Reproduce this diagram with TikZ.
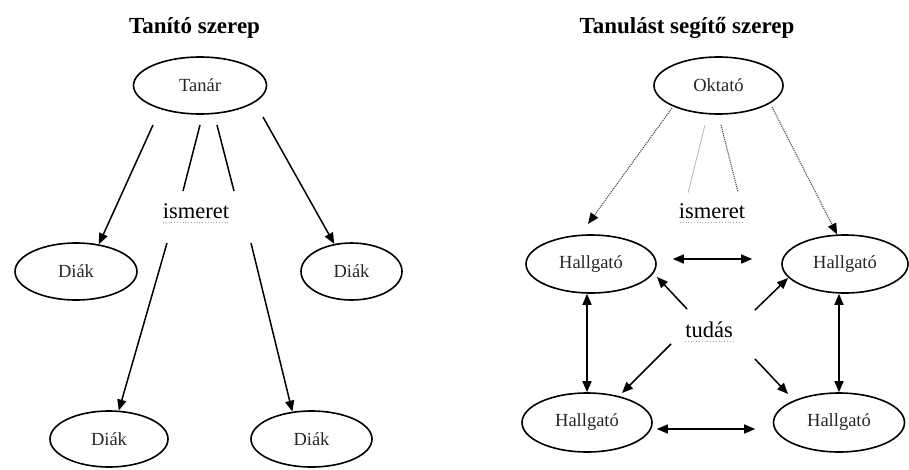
\documentclass[tikz,border=0pt]{standalone}
\usepackage{fontspec}
\setmainfont{Liberation Serif}
\usetikzlibrary{shapes.geometric,arrows.meta}
\begin{document}
\begin{tikzpicture}[x=1pt,y=-1pt,
  ell/.style={draw,ellipse,line width=1.6pt,inner sep=0pt,font=\fontsize{18.5}{22}\selectfont,text=black!85},
  ttl/.style={font=\fontsize{23}{27}\selectfont\bfseries,anchor=base},
  lbl/.style={font=\fontsize{22.5}{26}\selectfont,anchor=base},
  arr/.style={line width=1.5pt,-{Triangle[length=11pt,width=9pt]}},
  dbl/.style={line width=1.5pt,{Triangle[length=11pt,width=9pt]}-{Triangle[length=11pt,width=9pt]}},
  plainline/.style={line width=1.5pt},
  dotarr/.style={line width=1.1pt,densely dotted,black!70,-{Triangle[length=11pt,width=9pt,black]}},
  squig/.style={line width=0.8pt,dotted,gray!70}
]
\useasboundingbox (0,0) rectangle (909,469);

% titles
\node[ttl] (t1) at (194.5,33) {Tanító szerep};
\node[ttl] (t2) at (687,33) {Tanulást segítő szerep};

% left diagram
\node[ell,minimum width=133pt,minimum height=57pt] (tanar) at (200,85.5) {Tanár};
\node[ell,minimum width=122pt,minimum height=57pt] (diak1) at (76,271.5) {Diák};
\node[ell,minimum width=101pt,minimum height=57pt] (diak2) at (351.5,271.5) {Diák};
\node[ell,minimum width=118pt,minimum height=56pt] (diak3) at (109,439) {Diák};
\node[ell,minimum width=121pt,minimum height=56pt] (diak4) at (311.5,439) {Diák};
\node[lbl] (ism1) at (196,218) {ismeret};
\draw[squig] (163,222) -- (229,222);

\coordinate (a1s) at (153,125);
\coordinate (a2s) at (263,117);
\coordinate (l1s) at (200,125);
\coordinate (l1e) at (183,191);
\coordinate (l2s) at (217,125);
\coordinate (l2e) at (234,191);
\coordinate (b1s) at (167,243);
\coordinate (b2s) at (251,243);

\draw[arr] (a1s) -- (diak1.50);
\draw[arr] (a2s) -- (diak2.122);
\draw[plainline] (l1s) -- (l1e);
\draw[plainline] (l2s) -- (l2e);
\draw[arr] (b1s) -- (diak3.71);
\draw[arr] (b2s) -- (diak4.125);

% right diagram
\node[ell,minimum width=129pt,minimum height=57pt] (oktato) at (718.5,85.5) {Oktató};
\node[ell,minimum width=130pt,minimum height=58pt] (h1) at (591,264) {Hallgató};
\node[ell,minimum width=126pt,minimum height=58pt] (h2) at (845,264) {Hallgató};
\node[ell,minimum width=130pt,minimum height=59pt] (h3) at (587,422.5) {Hallgató};
\node[ell,minimum width=131pt,minimum height=59pt] (h4) at (839,422.5) {Hallgató};
\node[lbl] (ism2) at (712,218) {ismeret};
\draw[squig] (680,222) -- (744,222);
\node[lbl] (tudas) at (709,337) {tudás};
\draw[squig] (685,341) -- (733,341);

\coordinate (o1s) at (672,108);
\coordinate (o1e) at (588,224);
\coordinate (o2s) at (772,107);
\coordinate (m1s) at (705,125);
\coordinate (m1e) at (688,193);
\coordinate (m2s) at (721,125);
\coordinate (m2e) at (738,192);

\draw[dotarr] (o1s) -- (o1e);
\draw[dotarr] (o2s) -- (h2.105);
\draw[line width=0.9pt,gray!50] (m1s) -- (m1e);
\draw[line width=1.1pt,densely dotted,black!70] (m2s) -- (m2e);

\draw[dbl,shorten <=16pt,shorten >=29pt] ([yshift=5pt]h1.east) -- ([yshift=5pt]h2.west);
\draw[dbl,shorten <=4pt,shorten >=17.5pt] ([yshift=-6.5pt]h3.east) -- ([yshift=-6.5pt]h4.west);
\draw[dbl] (h3.north |- h1.south) -- (h3.north);
\draw[dbl] (h4.north |- h2.south) -- (h4.north);

\coordinate (u1s) at (687,309);
\coordinate (u1e) at (657,277);
\coordinate (u2s) at (755,310);
\coordinate (u2e) at (788,278);
\coordinate (u3s) at (671,344);
\coordinate (u3e) at (622,393);
\coordinate (u4s) at (755,359);
\coordinate (u4e) at (788,394);
\draw[arr] (u1s) -- (u1e);
\draw[arr] (u2s) -- (u2e);
\draw[arr] (u3s) -- (u3e);
\draw[arr] (u4s) -- (u4e);
\end{tikzpicture}
\end{document}
